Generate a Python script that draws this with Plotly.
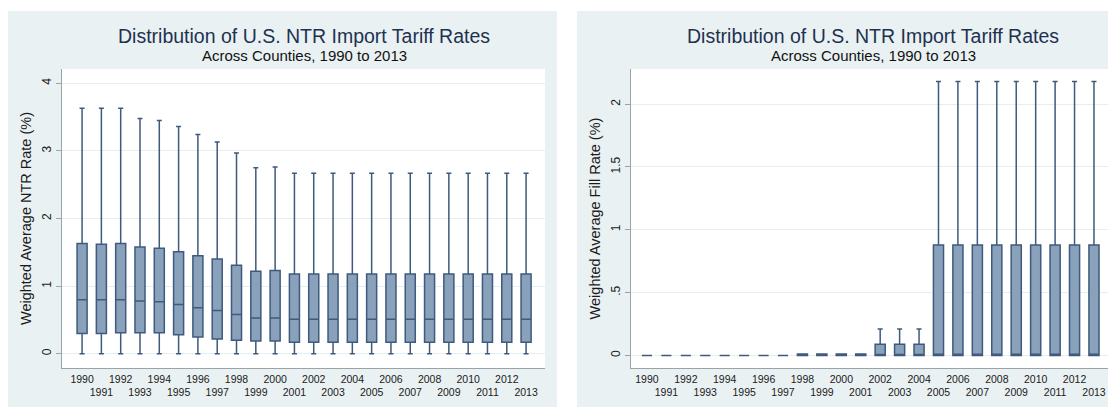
import plotly.graph_objects as go

years = list(range(1990, 2014))

# Left panel: Weighted Average NTR Rate (%)
ntr_lower = [0.0] * 24
ntr_q1 = [0.30, 0.30, 0.31, 0.31, 0.31, 0.28, 0.25, 0.22, 0.20, 0.19, 0.19] + [0.17] * 13
ntr_median = [0.80, 0.80, 0.80, 0.78, 0.77, 0.73, 0.68, 0.64, 0.58, 0.53, 0.53] + [0.51] * 13
ntr_q3 = [1.63, 1.62, 1.63, 1.58, 1.56, 1.51, 1.45, 1.40, 1.31, 1.22, 1.23] + [1.18] * 13
ntr_upper = [3.63, 3.63, 3.63, 3.48, 3.45, 3.36, 3.24, 3.13, 2.97, 2.75, 2.76] + [2.67] * 13

# Right panel: Weighted Average Fill Rate (%)
fill_lower = [0.0] * 24
fill_q1 = [0.0] * 24
fill_median = [0.0] * 8 + [0.0] * 4 + [0.005] * 3 + [0.01] * 9
fill_q3 = [0.0] * 8 + [0.012] * 4 + [0.09] * 3 + [0.88] * 9
fill_upper = [0.0] * 8 + [0.012] * 4 + [0.21] * 3 + [2.18] * 9

title_text = "Distribution of U.S. NTR Import Tariff Rates"
subtitle_text = "Across Counties, 1990 to 2013"
ylabel_left = "Weighted Average NTR Rate (%)"
ylabel_right = "Weighted Average Fill Rate (%)"
left_ytick_vals = [0, 1, 2, 3, 4]
left_ytick_text = ["0", "1", "2", "3", "4"]
right_ytick_vals = [0, 0.5, 1, 1.5, 2]
right_ytick_text = ["0", ".5", "1", "1.5", "2"]
xtick_text = [str(y) if y % 2 == 0 else "<br>" + str(y) for y in years]

# The page body has an 8px margin, so the figure is drawn offset by 8px.
OFF = 8
W, H = 1116 - OFF, 409 - OFF
FILL = "#8aa1bb"
LINE = "#3f5a7c"
PANEL_BG = "#eaf1f3"
TITLE_C = "#1e3250"
FONT = "Liberation Sans, Arial, sans-serif"

def px(x):
    return max(0.0, min(1.0, (x - OFF) / W))

def py(y):
    return max(0.0, min(1.0, 1 - (y - OFF) / H))

fig = go.Figure()

box_common = dict(
    fillcolor=FILL,
    line=dict(color=LINE, width=1.5),
    whiskerwidth=0.5,
    width=0.52,
    boxpoints=False,
    showlegend=False,
    hoverinfo="skip",
)

fig.add_trace(go.Box(x=years, q1=ntr_q1, median=ntr_median, q3=ntr_q3,
                     lowerfence=ntr_lower, upperfence=ntr_upper,
                     xaxis="x", yaxis="y", **box_common))
fig.add_trace(go.Box(x=years, q1=fill_q1, median=fill_median, q3=fill_q3,
                     lowerfence=fill_lower, upperfence=fill_upper,
                     xaxis="x2", yaxis="y2", **box_common))

ydom = [py(368), py(69)]

xaxis_common = dict(
    tickmode="array", tickvals=years, ticktext=xtick_text, tickangle=0,
    tickfont=dict(size=10.5, color="#1a1a1a", family=FONT),
    ticklabelstandoff=1,
    showgrid=False, zeroline=False, showline=True, linecolor="#9aa3a8",
    linewidth=1, ticks="", fixedrange=True,
)
yaxis_common = dict(
    tickfont=dict(size=12, color="#1a1a1a", family=FONT),
    tickangle=-90, showgrid=True, gridcolor="#e6eef0", gridwidth=1,
    zeroline=False, showline=True, linecolor="#9aa3a8", linewidth=1,
    ticks="outside", ticklen=5, tickcolor="#9aa3a8", fixedrange=True,
    title=dict(font=dict(size=14.5, color="#1a1a1a", family=FONT), standoff=5),
)

shapes = [
    dict(type="rect", xref="paper", yref="paper", x0=px(7), x1=px(557),
         y0=py(407), y1=py(11), fillcolor=PANEL_BG, line=dict(width=0), layer="below"),
    dict(type="rect", xref="paper", yref="paper", x0=px(577), x1=1.0,
         y0=py(407), y1=py(11), fillcolor=PANEL_BG, line=dict(width=0), layer="below"),
    dict(type="rect", xref="x domain", yref="y domain", x0=0, x1=1, y0=0, y1=1,
         fillcolor="white", line=dict(width=0), layer="below"),
    dict(type="rect", xref="x2 domain", yref="y2 domain", x0=0, x1=1, y0=0, y1=1,
         fillcolor="white", line=dict(width=0), layer="below"),
]

annotations = []
for cx in (304, 873):
    annotations.append(dict(text=title_text, xref="paper", yref="paper", x=px(cx), y=py(35.5),
                            xanchor="center", yanchor="middle", showarrow=False,
                            font=dict(size=19.5, color=TITLE_C, family=FONT)))
    annotations.append(dict(text=subtitle_text, xref="paper", yref="paper", x=px(cx), y=py(55.5),
                            xanchor="center", yanchor="middle", showarrow=False,
                            font=dict(size=15, color="#111", family=FONT)))

fig.update_layout(
    width=W, height=H,
    margin=dict(l=0, r=0, t=0, b=0),
    paper_bgcolor="white",
    plot_bgcolor="white",
    font=dict(family=FONT),
    xaxis=dict(domain=[px(62), px(545)], range=[1988.96, 2013.98],
               anchor="y", **xaxis_common),
    yaxis=dict(domain=ydom, range=[-0.21, 4.21], anchor="x",
               tickvals=left_ytick_vals, ticktext=left_ytick_text,
               **{**yaxis_common, "title": dict(text=ylabel_left, **yaxis_common["title"])}),
    xaxis2=dict(domain=[px(631), px(1114)], range=[1989.18, 2014.03],
                anchor="y2", **xaxis_common),
    yaxis2=dict(domain=ydom, range=[-0.10, 2.28], anchor="x2",
                tickvals=right_ytick_vals, ticktext=right_ytick_text,
                **{**yaxis_common, "title": dict(text=ylabel_right, **yaxis_common["title"])}),
    shapes=shapes,
    annotations=annotations,
)

fig.write_html("out.html")
